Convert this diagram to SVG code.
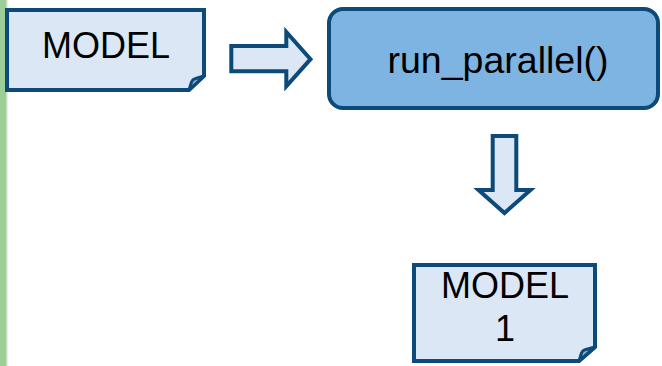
<svg xmlns="http://www.w3.org/2000/svg" width="662" height="366" viewBox="0 0 662 366">
  <style>
    .doc { fill: #dbe7f5; stroke: #0c4a79; stroke-width: 4; stroke-linejoin: miter; }
    .flap { fill: #8fb1d0; stroke: #0c4a79; stroke-width: 3; stroke-linejoin: round; }
    .proc { fill: #7eb4e2; stroke: #0c4a79; stroke-width: 4; }
    .arrow { fill: #dbe7f5; stroke: #0c4a79; stroke-width: 4; stroke-linejoin: miter; }
    .label { font-family: "Liberation Sans", Arial, sans-serif; font-size: 36px; fill: #000; text-anchor: middle; }
  </style>

  <!-- side accent bar -->
  <rect x="0" y="0" width="7" height="366" fill="#9bcf97"/>
  <rect x="6" y="0" width="1.5" height="366" fill="#c4e3c1"/>

  <g id="model">
    <path class="doc" d="M7,10 H204 V76 L189,90 H7 Z"/>
    <path class="flap" d="M189,90 L191.5,82 Q192.5,79.5 195,78.8 L204,76 Z"/>
    <text class="label" x="106" y="58">MODEL</text>
  </g>

  <g id="run_parallel">
    <rect class="proc" x="329" y="9" width="329" height="99" rx="14" ry="14"/>
    <text class="label" x="498" y="73" style="font-size:37px" textLength="221" lengthAdjust="spacingAndGlyphs">run_parallel()</text>
  </g>

  <g id="model_1">
    <path class="doc" d="M414,265 H595 V347 L579,361 H414 Z"/>
    <path class="flap" d="M579,361 L581.5,353 Q582.5,350.5 585,349.8 L595,347 Z"/>
    <text class="label" x="505" y="298">MODEL</text>
    <text class="label" x="505" y="341">1</text>
  </g>

  <g id="connectors">
    <path class="arrow" d="M231.3,46 H286.3 V32 L310.5,59.2 L286.3,86.3 V71.3 H231.3 Z"/>
    <path class="arrow" d="M492.7,136 H516.3 V190 H530.5 L504.5,213 L478.5,190 H492.7 Z"/>
  </g>
</svg>
